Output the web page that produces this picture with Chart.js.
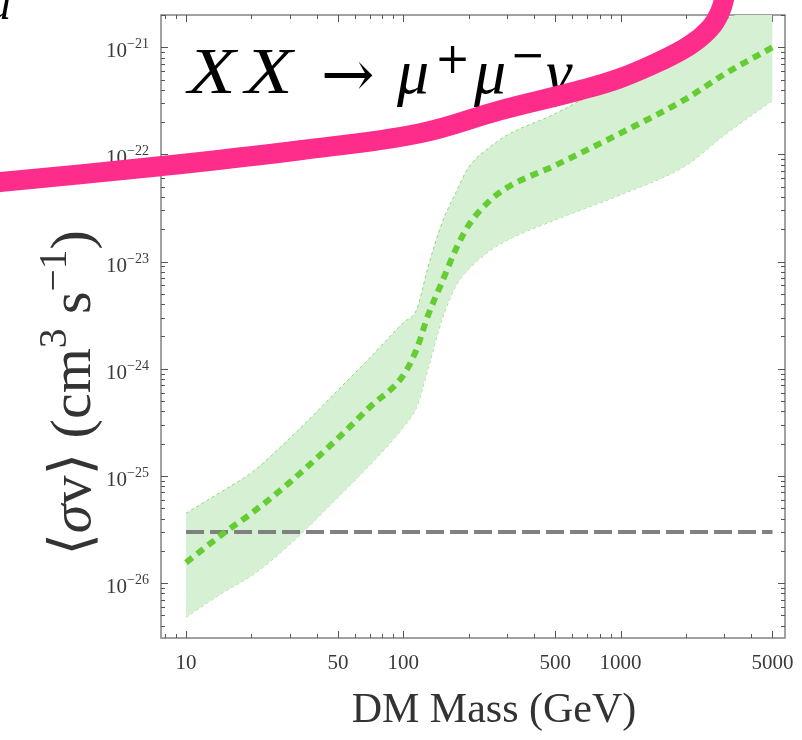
<!DOCTYPE html>
<html><head><meta charset="utf-8">
<script src="https://cdn.jsdelivr.net/npm/chart.js@4.4.1/dist/chart.umd.min.js"></script>
<style>html,body{margin:0;padding:0;background:#fff;overflow:hidden}canvas{display:block}</style>
</head><body>
<canvas id="c" width="802" height="740"></canvas>
<script>
// ---- data ----
const massGeV      = [10, 15, 20, 30, 50, 70, 100, 115, 130, 150, 175, 200, 250, 300, 500, 1000, 2000, 3000, 5000];
const sigmaCentral = [1.55e-26, 2.95e-26, 4.47e-26, 8.7e-26, 2.24e-25, 4.37e-25, 8.7e-25, 1.51e-24, 3.16e-24, 6.3e-24, 1.32e-23, 2.19e-23, 3.7e-23, 4.9e-23, 7.9e-23, 1.58e-22, 3.3e-22, 5.6e-22, 1.0e-21];
const sigmaUpper   = [4.47e-26, 7.4e-26, 1.07e-25, 2.24e-25, 6.3e-25, 1.26e-24, 2.7e-24, 3.55e-24, 8.9e-24, 2.24e-23, 4.47e-23, 7.6e-23, 1.17e-22, 1.51e-22, 2.4e-22, 5.2e-22, 1.15e-21, 1.78e-21, 3.0e-21];
const sigmaLower   = [4.8e-27, 8.3e-27, 1.17e-26, 2.29e-26, 6.3e-26, 1.26e-25, 2.85e-25, 4.37e-25, 1.0e-24, 2.8e-24, 6.0e-24, 8.5e-24, 1.26e-23, 1.58e-23, 2.45e-23, 4.2e-23, 7.9e-23, 1.51e-22, 3.2e-22];
const relicMass    = [10, 5000];
const relicSigma   = [3e-26, 3e-26];
// hand-drawn pink highlight stroke, in data coordinates (listed from its top end down to the left edge)
const highlightMass  = [3055, 3020, 2864, 2576, 2085, 1517, 993, 650.5, 278.6, 119.4, 33.5, 7.59, 1.393, 1.127];
const highlightSigma = [4.2e-21, 3.05e-21, 2.12e-21, 1.50e-21, 1.045e-21, 7.40e-22, 5.14e-22, 3.97e-22, 2.58e-22, 1.578e-22, 1.094e-22, 7.76e-23, 5.51e-23, 5.27e-23];
// axes
const xTickLabels    = [10, 50, 100, 500, 1000, 5000];
const yTickExponents = [-26, -25, -24, -23, -22, -21];
const xAxisTitle = 'DM Mass (GeV)';

const pts = (xs, ys) => xs.map((v, i) => ({x: v, y: ys[i]}));
const SERIF = '"Liberation Serif","DejaVu Serif","Times New Roman",serif';

function drawPieces(ctx, pieces, x0, y0, size) {
  let x = x0;
  for (const p of pieces) {
    const s = p.sup ? size * 0.68 : size;
    ctx.font = (p.it ? 'italic ' : '') + s + 'px ' + SERIF;
    ctx.fillText(p.t, x, y0 - (p.sup ? size * 0.42 : 0));
    x += ctx.measureText(p.t).width;
  }
  return x - x0;
}
function piecesWidth(ctx, pieces, size) {
  let w = 0;
  for (const p of pieces) {
    const s = p.sup ? size * 0.68 : size;
    ctx.font = (p.it ? 'italic ' : '') + s + 'px ' + SERIF;
    w += ctx.measureText(p.t).width;
  }
  return w;
}

const decor = {
  id: 'decor',
  beforeDatasetsDraw(chart) {
    const {ctx, chartArea: a, scales: {x, y}} = chart;
    ctx.save();
    // frame
    ctx.strokeStyle = '#8a8a8a'; ctx.lineWidth = 1.6;
    ctx.strokeRect(a.left, a.top, a.right - a.left, a.bottom - a.top);
    // tick marks (inward, all four sides)
    ctx.strokeStyle = '#555'; ctx.lineWidth = 1;
    ctx.beginPath();
    for (let d = 0; d <= 4; d++) for (let k = 1; k <= 9; k++) {
      const v = k * Math.pow(10, d);
      if (v < x.min || v > x.max) continue;
      const len = xTickLabels.includes(v) ? 7 : 4;
      const px = Math.round(x.getPixelForValue(v)) + 0.5;
      ctx.moveTo(px, a.bottom); ctx.lineTo(px, a.bottom - len);
      ctx.moveTo(px, a.top); ctx.lineTo(px, a.top + len);
    }
    for (let e = -28; e <= -21; e++) for (let k = 1; k <= 9; k++) {
      const v = k * Math.pow(10, e);
      if (v < y.min || v > y.max) continue;
      const len = k === 1 ? 7 : 4;
      const py = Math.round(y.getPixelForValue(v)) + 0.5;
      ctx.moveTo(a.left, py); ctx.lineTo(a.left + len, py);
      ctx.moveTo(a.right, py); ctx.lineTo(a.right - len, py);
    }
    ctx.stroke();

    // tick labels
    ctx.fillStyle = '#3a3a3a';
    ctx.textBaseline = 'alphabetic';
    ctx.textAlign = 'center';
    ctx.font = '21px ' + SERIF;
    for (const v of xTickLabels) {
      ctx.fillText(String(v), x.getPixelForValue(v), 669);
    }
    ctx.textAlign = 'right';
    for (const e of yTickExponents) {
      const py = y.getPixelForValue(Math.pow(10, e));
      const ex = '\u2212' + Math.abs(e);
      ctx.font = '14px ' + SERIF;
      const we = ctx.measureText(ex).width;
      ctx.fillText(ex, 149, py + 1);
      ctx.font = '21px ' + SERIF;
      ctx.fillText('10', 149 - we, py + 10);
    }
    ctx.textAlign = 'left';

    // x axis title
    ctx.fillStyle = '#333';
    ctx.font = '42px ' + SERIF;
    ctx.textAlign = 'center';
    ctx.fillText(xAxisTitle, 494, 722);
    ctx.textAlign = 'left';

    // y axis title (rotated)
    const yt = [
      {t: '\u27E8'}, {t: '\u03C3', it: true}, {t: 'v'}, {t: '\u27E9'}, {t: ' (cm'}, {t: '3', sup: true},
      {t: ' s'}, {t: '\u22121', sup: true}, {t: ')'}
    ];
    const ys = 58;
    ctx.save();
    ctx.translate(90, 393);
    ctx.rotate(-Math.PI / 2);
    const w = piecesWidth(ctx, yt, ys);
    drawPieces(ctx, yt, -w / 2, 0, ys);
    ctx.restore();

    // panel title  XX -> mu+ mu- gamma
    ctx.fillStyle = '#000';
    const L = a.left, T = a.top;
    ctx.font = 'italic 66px ' + SERIF;
    ctx.save(); ctx.translate(L + 27, T + 78); ctx.scale(1.18, 1); ctx.fillText('X', 0, 0); ctx.restore();
    ctx.save(); ctx.translate(L + 84, T + 78); ctx.scale(1.18, 1); ctx.fillText('X', 0, 0); ctx.restore();
    ctx.font = '64px "DejaVu Serif",serif';
    ctx.fillText('\u2192', L + 160, T + 81);
    ctx.font = 'italic 64px ' + SERIF;
    ctx.fillText('\u03BC', L + 236, T + 78);
    ctx.fillText('\u03BC', L + 313, T + 78);
    ctx.fillText('\u03B3', L + 385, T + 78);
    ctx.font = '42px "DejaVu Serif",serif';
    ctx.fillText('+', L + 274, T + 58);
    ctx.fillText('\u2212', L + 349, T + 54);

    // fragment of a letter cut at the top-left corner
    ctx.font = 'italic 46px ' + SERIF;
    ctx.fillText('d', -12, 19);
    ctx.restore();
  }
};

new Chart(document.getElementById('c'), {
  type: 'line',
  data: {
    datasets: [
      {label: 'lower', data: pts(massGeV, sigmaLower), borderColor: '#8fd67a', borderWidth: 1, borderDash: [3, 3],
       pointRadius: 0, fill: false, cubicInterpolationMode: 'monotone', order: 5},
      {label: 'upper', data: pts(massGeV, sigmaUpper), borderColor: '#8fd67a', borderWidth: 1, borderDash: [3, 3],
       backgroundColor: '#d5f0d2', pointRadius: 0, fill: '-1', cubicInterpolationMode: 'monotone', order: 4},
      {label: 'relic', data: pts(relicMass, relicSigma), borderColor: '#808080', borderWidth: 4, borderDash: [18, 6],
       pointRadius: 0, fill: false, order: 3},
      {label: 'central', data: pts(massGeV, sigmaCentral), borderColor: '#66cc33', borderWidth: 6, borderDash: [8, 6],
       pointRadius: 0, fill: false, cubicInterpolationMode: 'monotone', order: 2},
      {label: 'highlight', data: pts(highlightMass, highlightSigma), borderColor: '#fe2c8a', borderWidth: 20,
       pointRadius: 0, fill: false, tension: 0.4, clip: false, order: 1}
    ]
  },
  options: {
    responsive: false, animation: false,
    layout: {padding: {left: 161, right: 17, top: 15, bottom: 102}},
    plugins: {legend: {display: false}, tooltip: {enabled: false}},
    scales: {
      x: {type: 'logarithmic', min: 7.67, max: 5709, display: false},
      y: {type: 'logarithmic', min: 3.07e-27, max: 2.0e-21, display: false}
    }
  },
  plugins: [decor]
});
</script>
</body></html>
